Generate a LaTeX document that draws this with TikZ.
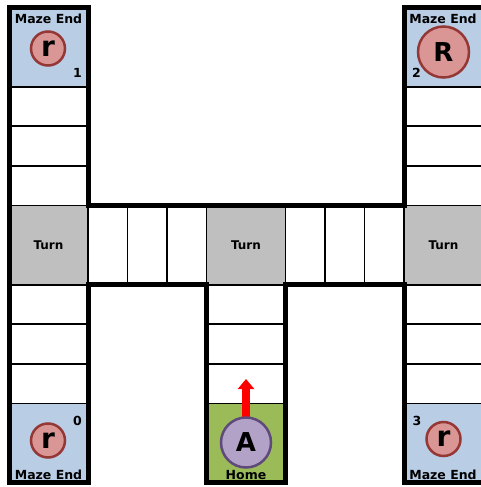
\documentclass[tikz,border=0pt]{standalone}
\usepackage{fontspec}
\setmainfont{DejaVu Sans}
\usetikzlibrary{arrows.meta}
\definecolor{mazeblue}{HTML}{B9CDE5}
\definecolor{turngray}{HTML}{BFBFBF}
\definecolor{homegreen}{HTML}{9BBB59}
\definecolor{rfill}{HTML}{D99694}
\definecolor{rdraw}{HTML}{953735}
\definecolor{afill}{HTML}{B3A2C7}
\definecolor{adraw}{HTML}{604A7B}
\tikzset{
  cellbox/.style={draw=black, line width=1.9pt, inner sep=0pt, outer sep=0pt, fill=white},
  bigcell/.style={cellbox, minimum width=79pt, minimum height=79.2pt},
  vcell/.style={cellbox, minimum width=79pt, minimum height=39.6pt},
  hcell/.style={cellbox, minimum width=39.5pt, minimum height=79.2pt},
  wall/.style={draw=black, line width=5pt, line join=miter},
  lbl/.style={font=\bfseries\fontsize{12.5}{15}\selectfont, inner sep=0pt},
  numlbl/.style={font=\bfseries\fontsize{12.5}{15}\selectfont, inner sep=0pt},
  turnlbl/.style={font=\bfseries\fontsize{12}{14}\selectfont},
  rball/.style={circle, draw=rdraw, fill=rfill, line width=2.5pt, inner sep=0pt},
}
\begin{document}
\begin{tikzpicture}[x=1pt,y=-1pt]
\useasboundingbox (0,0) rectangle (481,487);
% big cells
\node[bigcell, fill=mazeblue] (me1) at (48.5,47.1) {};
\node[bigcell, fill=mazeblue] (me2) at (443.5,47.1) {};
\node[bigcell, fill=mazeblue] (me0) at (48.5,443.1) {};
\node[bigcell, fill=mazeblue] (me3) at (443.5,443.1) {};
\node[bigcell, fill=homegreen] (home) at (246,443.1) {};
\node[bigcell, fill=turngray, turnlbl] (turnL) at (48.5,245.1) {Turn};
\node[bigcell, fill=turngray, turnlbl] (turnC) at (246,245.1) {Turn};
\node[bigcell, fill=turngray, turnlbl] (turnR) at (443.5,245.1) {Turn};
% vertical corridor cells
\foreach \y [count=\i] in {106.5,146.1,185.7,304.5,344.1,383.7} {
  \node[vcell] (lc\i) at (48.5,\y) {};
  \node[vcell] (rc\i) at (443.5,\y) {};
}
\foreach \y [count=\i] in {304.5,344.1,383.7} {
  \node[vcell] (cc\i) at (246,\y) {};
}
% horizontal corridor cells
\foreach \x [count=\i] in {107.75,147.25,186.75,305.25,344.75,384.25} {
  \node[hcell] (hc\i) at (\x,245.1) {};
}
% outer walls
\draw[wall] (me1.north west) -- (me1.north east) -- (turnL.north east)
  -- (turnR.north west) -- (me2.north west) -- (me2.north east)
  -- (me3.south east) -- (me3.south west) -- (turnR.south west)
  -- (turnC.south east) -- (home.south east) -- (home.south west)
  -- (turnC.south west) -- (turnL.south east) -- (me0.south east)
  -- (me0.south west) -- cycle;
% labels
\node[lbl] (t1) at (48.5,18.5) {Maze End};
\node[lbl] (t2) at (443,18.5) {Maze End};
\node[lbl] (t0) at (48.5,475) {Maze End};
\node[lbl] (t3) at (443,475) {Maze End};
\node[lbl] (th) at (246,475) {Home};
\node[numlbl] (n1) at (77.5,73) {1};
\node[numlbl] (n2) at (416.5,73) {2};
\node[numlbl] (n0) at (77.5,420.5) {0};
\node[numlbl] (n3) at (417,421) {3};
% balls
\node[rball, minimum size=34pt, font=\bfseries\fontsize{28}{28}\selectfont] (b1) at (48,48.5) {r};
\node[rball, minimum size=34pt, font=\bfseries\fontsize{28}{28}\selectfont] (b0) at (48,440.5) {r};
\node[rball, minimum size=34pt, font=\bfseries\fontsize{28}{28}\selectfont] (b3) at (443.5,439) {r};
\node[rball, minimum size=51pt, font=\bfseries\fontsize{26}{26}\selectfont] (b2) at (443.5,52) {R};
\coordinate (tip) at (246,379);
\draw[red, line width=8pt, -{Triangle[width=16pt,length=10pt]}] (246,430) -- (tip);
\node[circle, draw=adraw, fill=afill, line width=2.5pt, inner sep=0pt, minimum size=50pt, font=\bfseries\fontsize{26}{26}\selectfont] (agent) at (246,442.5) {A};
\end{tikzpicture}
\end{document}
